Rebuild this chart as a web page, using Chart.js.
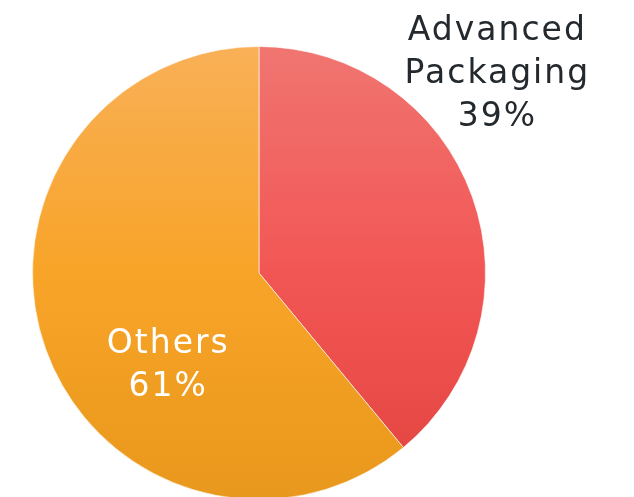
<!DOCTYPE html>
<html>
<head>
<meta charset="utf-8">
<script src="https://cdn.jsdelivr.net/npm/chart.js@4/dist/chart.umd.min.js"></script>
<style>
  html, body { margin: 0; padding: 0; background: #fff; overflow: hidden; }
  #wrap { position: absolute; left: 0; top: 0; width: 634px; height: 546px; }
</style>
</head>
<body>
<div id="wrap"><canvas id="pie"></canvas></div>
<script>
// data
const labels = ['Advanced Packaging', 'Others'];
const shares = [39, 61];

// colours (top -> bottom of the pie)
const gradTop = ['#f07571', '#f9b057'];
const gradMid = ['#f25654', '#f8a428'];
const gradBot = ['#e2443f', '#e8981c'];

// label anchors as fractions of the radius from the pie centre
const labelPos = [[1.048, -0.875], [-0.405, 0.41]];
const labelColor = ['#24292e', '#ffffff'];

function sliceFill(ctx) {
  const chart = ctx.chart;
  const area = chart.chartArea;
  if (!area) return gradMid[ctx.dataIndex];
  const g = chart.ctx.createLinearGradient(0, area.top, 0, area.bottom);
  g.addColorStop(0, gradTop[ctx.dataIndex]);
  g.addColorStop(0.5, gradMid[ctx.dataIndex]);
  g.addColorStop(1, gradBot[ctx.dataIndex]);
  return g;
}

const sliceLabels = {
  id: 'sliceLabels',
  afterDraw(chart) {
    const c = chart.ctx;
    const arcs = chart.getDatasetMeta(0).data;
    c.save();
    c.font = '33px "DejaVu Sans", sans-serif';
    c.letterSpacing = '2px';
    c.textAlign = 'center';
    c.textBaseline = 'middle';
    arcs.forEach((arc, i) => {
      const x = arc.x + labelPos[i][0] * arc.outerRadius + 1;
      const y = arc.y + labelPos[i][1] * arc.outerRadius;
      const lines = labels[i].split(' ').concat([shares[i] + '%']);
      const lh = 43;
      c.fillStyle = labelColor[i];
      lines.forEach((t, k) => {
        c.fillText(t, x, y + (k - (lines.length - 1) / 2) * lh);
      });
    });
    c.restore();
  }
};

new Chart(document.getElementById('pie'), {
  type: 'pie',
  data: {
    labels: labels,
    datasets: [{
      data: shares,
      backgroundColor: sliceFill,
      borderColor: 'rgba(255,255,255,0.6)',
      borderWidth: 1
    }]
  },
  options: {
    responsive: true,
    maintainAspectRatio: false,
    animation: false,
    layout: { padding: { top: 46, bottom: 46, left: 32, right: 148 } },
    plugins: {
      legend: { display: false },
      tooltip: { enabled: false }
    }
  },
  plugins: [sliceLabels]
});
</script>
</body>
</html>
